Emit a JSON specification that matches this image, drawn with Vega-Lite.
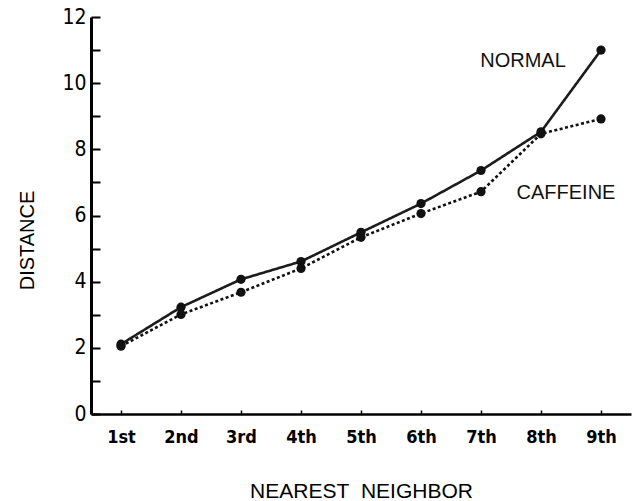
{
  "$schema": "https://vega.github.io/schema/vega-lite/v6.json",
  "autosize": "none",
  "width": 540,
  "height": 397,
  "padding": {"left": 91, "top": 17, "right": 5, "bottom": 87},
  "background": "white",
  "config": {"view": {"stroke": null}},
  "datasets": {
    "series": [
      {"neighbor": "1st", "group": "NORMAL", "distance": 2.11},
      {"neighbor": "2nd", "group": "NORMAL", "distance": 3.23},
      {"neighbor": "3rd", "group": "NORMAL", "distance": 4.07},
      {"neighbor": "4th", "group": "NORMAL", "distance": 4.61},
      {"neighbor": "5th", "group": "NORMAL", "distance": 5.49},
      {"neighbor": "6th", "group": "NORMAL", "distance": 6.36},
      {"neighbor": "7th", "group": "NORMAL", "distance": 7.36},
      {"neighbor": "8th", "group": "NORMAL", "distance": 8.53},
      {"neighbor": "9th", "group": "NORMAL", "distance": 11.0},
      {"neighbor": "1st", "group": "CAFFEINE", "distance": 2.05},
      {"neighbor": "2nd", "group": "CAFFEINE", "distance": 3.01},
      {"neighbor": "3rd", "group": "CAFFEINE", "distance": 3.68},
      {"neighbor": "4th", "group": "CAFFEINE", "distance": 4.40},
      {"neighbor": "5th", "group": "CAFFEINE", "distance": 5.34},
      {"neighbor": "6th", "group": "CAFFEINE", "distance": 6.06},
      {"neighbor": "7th", "group": "CAFFEINE", "distance": 6.72},
      {"neighbor": "8th", "group": "CAFFEINE", "distance": 8.47},
      {"neighbor": "9th", "group": "CAFFEINE", "distance": 8.92}
    ],
    "normalLabel": [
      {"neighbor": "8th", "group": "NORMAL", "distance": 10.67}
    ],
    "caffeineLabel": [
      {"neighbor": "8th", "group": "CAFFEINE", "distance": 6.67}
    ]
  },
  "encoding": {
    "x": {
      "field": "neighbor",
      "type": "ordinal",
      "sort": ["1st", "2nd", "3rd", "4th", "5th", "6th", "7th", "8th", "9th"],
      "scale": {"type": "point", "padding": 0.5},
      "axis": {
        "title": "NEAREST\u00a0\u00a0NEIGHBOR",
        "titleFont": "Liberation Sans",
        "titleFontSize": 21,
        "titleFontWeight": "normal",
        "titleColor": "black",
        "titlePadding": 34,
        "labelFont": "DejaVu Sans Condensed, Liberation Sans Narrow, Liberation Sans",
        "labelFontSize": 18,
        "labelFontWeight": "bold",
        "labelColor": "black",
        "labelAngle": 0,
        "labelPadding": 18,
        "domainColor": "black",
        "domainWidth": 2.5,
        "tickColor": "black",
        "tickWidth": 1.5,
        "tickSize": -4,
        "grid": false
      }
    },
    "y": {
      "field": "distance",
      "type": "quantitative",
      "scale": {"domain": [0, 12], "nice": false, "zero": true},
      "axis": {
        "title": "DISTANCE",
        "titleFont": "Liberation Sans",
        "titleFontSize": 20,
        "titleFontWeight": "normal",
        "titleColor": "black",
        "titlePadding": 24,
        "titleY": 223,
        "values": [0, 1, 2, 3, 4, 5, 6, 7, 8, 9, 10, 11, 12],
        "labelExpr": "datum.value % 2 === 0 ? datum.label : ''",
        "labelFont": "DejaVu Sans Condensed, Liberation Sans Narrow, Liberation Sans",
        "labelFontSize": 21,
        "labelColor": "black",
        "labelPadding": 14,
        "domainColor": "black",
        "domainWidth": 3,
        "tickColor": "black",
        "tickWidth": 2,
        "tickSize": -9,
        "grid": false
      }
    }
  },
  "layer": [
    {
      "data": {"name": "series"},
      "mark": {"type": "line", "strokeWidth": 2.6},
      "encoding": {
        "detail": {"field": "group"},
        "color": {
          "field": "group",
          "type": "nominal",
          "scale": {"domain": ["NORMAL", "CAFFEINE"], "range": ["#1c1c1c", "#111111"]},
          "legend": null
        },
        "strokeDash": {
          "field": "group",
          "type": "nominal",
          "scale": {"domain": ["NORMAL", "CAFFEINE"], "range": [[1, 0], [3, 2.5]]},
          "legend": null
        }
      }
    },
    {
      "data": {"name": "series"},
      "mark": {"type": "point", "filled": true, "size": 85, "opacity": 1, "color": "#111111"}
    },
    {
      "data": {"name": "normalLabel"},
      "mark": {"type": "text", "font": "Liberation Sans", "fontSize": 20, "color": "#111111", "baseline": "middle", "align": "center", "dx": -18},
      "encoding": {"text": {"field": "group"}}
    },
    {
      "data": {"name": "caffeineLabel"},
      "mark": {"type": "text", "font": "Liberation Sans", "fontSize": 20, "color": "#111111", "baseline": "middle", "align": "center", "dx": 25},
      "encoding": {"text": {"field": "group"}}
    }
  ]
}
